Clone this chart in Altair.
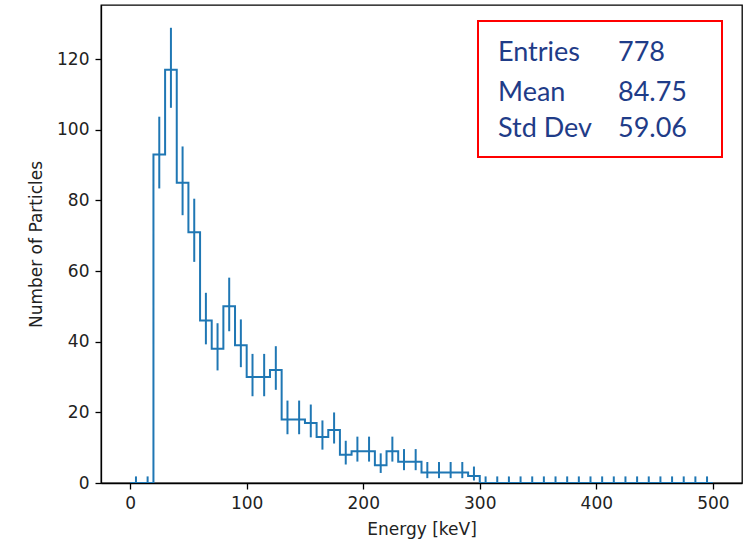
import altair as alt
import pandas as pd
import numpy as np

# ---- data ----
bin_start = 0
bin_width = 10
counts = [0, 0, 93, 117, 85, 71, 46, 38, 50, 39,
          30, 30, 32, 18, 18, 17, 13, 15, 8, 9,
          9, 5, 9, 6, 6, 3, 3, 3, 3, 2,
          0, 0, 0, 0, 0, 0, 0, 0, 0, 0,
          0, 0, 0, 0, 0, 0, 0, 0, 0, 0]
x_ticks = [0, 100, 200, 300, 400, 500]
y_ticks = [0, 20, 40, 60, 80, 100, 120]
stats_labels = ["Entries", "Mean", "Std Dev"]
stats_values = ["778", "84.75", "59.06"]

# ---- derived tables ----
n = np.array(counts, dtype=float)
lefts = bin_start + bin_width * np.arange(len(counts))
centers = lefts + bin_width / 2
# Poisson (Gehrels) confidence interval for the counts
upper = n + 1 + np.sqrt(n + 0.75)
nn = np.maximum(n, 1)
lower = np.where(n > 0, n * (1 - 1 / (9 * nn) - 1 / (3 * np.sqrt(nn))) ** 3, 0)

step_df = pd.DataFrame({
    "x": list(lefts) + [lefts[-1] + bin_width],
    "y": list(n) + [0.0],
})
err_df = pd.DataFrame({"x": centers, "lo": np.maximum(lower, 0), "hi": upper})

W, H = 641, 478
BLUE = "#1f77b4"
xs = alt.Scale(domain=[-25, 525], nice=False, zero=False)
ys = alt.Scale(domain=[0, 135.3], nice=False, zero=False)

step = alt.Chart(step_df).mark_line(interpolate="step-after", color=BLUE, strokeWidth=2, clip=True).encode(
    x=alt.X("x:Q", scale=xs, axis=alt.Axis(values=x_ticks, title="Energy [keV]")),
    y=alt.Y("y:Q", scale=ys, axis=alt.Axis(values=y_ticks, title="Number of Particles")),
)
errs = alt.Chart(err_df).mark_rule(color=BLUE, strokeWidth=2, clip=True).encode(
    x=alt.X("x:Q", scale=xs),
    y=alt.Y("lo:Q", scale=ys),
    y2="hi:Q",
)

# stats box (annotation, in pixel space of the plot area)
box = alt.Chart(pd.DataFrame({"k": [0]})).mark_rect(fill="white", stroke="#ff0000", strokeWidth=2).encode(
    x=alt.value(377), x2=alt.value(621), y=alt.value(16), y2=alt.value(152)
)
layers = [step, errs, box]
row_y = [56, 96, 132]
TXT = "#1F3C88"
for i in range(len(stats_labels)):
    layers.append(alt.Chart(pd.DataFrame({"k": [0]})).mark_text(
        align="left", baseline="alphabetic", font="Lato", fontSize=27, color=TXT
    ).encode(x=alt.value(397), y=alt.value(row_y[i]), text=alt.value(stats_labels[i])))
    layers.append(alt.Chart(pd.DataFrame({"k": [0]})).mark_text(
        align="left", baseline="alphabetic", font="Lato", fontSize=27, color=TXT
    ).encode(x=alt.value(517), y=alt.value(row_y[i]), text=alt.value(stats_values[i])))

chart = alt.layer(*layers).properties(
    width=W, height=H,
    autosize=alt.AutoSizeParams(type="none"),
    padding={"left": 101, "top": 5, "right": 6, "bottom": 58},
    background="white",
).configure_view(stroke="#000000", strokeWidth=1.3).configure_axis(
    grid=False,
    domain=True, domainColor="#000000", domainWidth=1.3,
    ticks=True, tickColor="#000000", tickWidth=1.3, tickSize=6,
    labelFont="DejaVu Sans", labelFontSize=17, labelColor="#222222", labelPadding=6,
    titleFont="DejaVu Sans", titleFontSize=17, titleFontWeight="normal", titleColor="#222222",
).configure_axisX(titlePadding=10).configure_axisY(titlePadding=11)

chart.save("out.html", embed_options={"renderer": "svg", "actions": False})
